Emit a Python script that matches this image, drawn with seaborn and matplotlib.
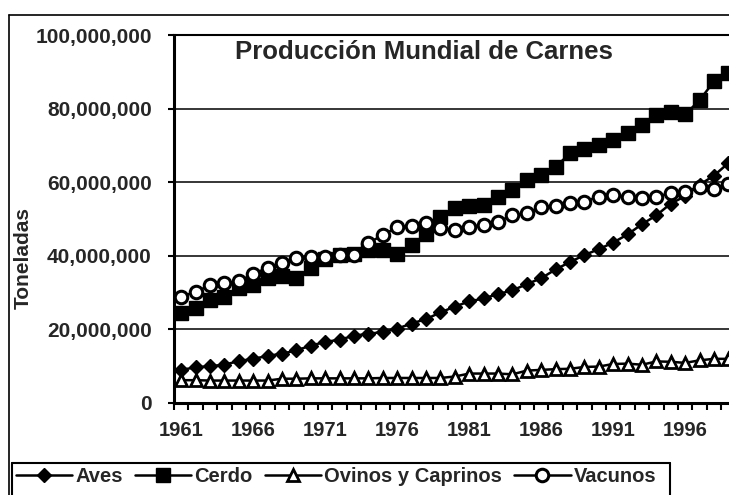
import numpy as np
import pandas as pd
import matplotlib
matplotlib.use("Agg")
import matplotlib.pyplot as plt
from matplotlib.lines import Line2D
from matplotlib.ticker import FuncFormatter, MultipleLocator, FixedLocator
import seaborn as sns

# ---------------- data (million tonnes) ----------------
years = list(range(1961, 2000))
aves = [9.0, 9.7, 10.0, 10.4, 11.4, 12.0, 12.8, 13.4, 14.3, 15.6,
        16.6, 17.2, 18.3, 18.8, 19.3, 20.2, 21.6, 22.8, 24.6, 26.2,
        27.6, 28.4, 29.6, 30.6, 32.3, 33.9, 36.3, 38.3, 40.2, 41.8,
        43.6, 45.8, 48.6, 51.0, 54.2, 56.2, 59.3, 61.8, 65.2]
cerdo = [24.4, 25.8, 28.0, 28.9, 31.2, 32.1, 33.9, 34.4, 33.9, 36.6,
         39.2, 40.3, 40.5, 41.6, 41.6, 40.4, 43.0, 45.8, 50.6, 53.0,
         53.6, 53.8, 56.1, 57.9, 60.5, 62.0, 64.2, 67.8, 68.9, 70.1,
         71.5, 73.5, 75.6, 78.2, 79.0, 78.4, 82.3, 87.4, 89.6]
ovinos = [6.2, 6.2, 6.1, 6.1, 6.1, 6.1, 6.1, 6.6, 6.6, 6.7,
          6.7, 6.7, 6.7, 6.7, 6.8, 6.8, 6.8, 6.8, 6.8, 7.2,
          8.0, 8.0, 8.0, 7.8, 8.8, 9.0, 9.2, 9.3, 9.8, 9.9,
          10.6, 10.7, 10.4, 11.3, 11.2, 10.9, 11.6, 12.0, 12.0]
vacunos = [28.9, 30.2, 32.0, 32.5, 33.1, 35.0, 36.8, 38.1, 39.3, 39.8,
           39.8, 40.2, 40.2, 43.4, 45.7, 47.7, 48.1, 49.0, 47.6, 47.0,
           47.9, 48.4, 49.3, 51.0, 51.5, 53.3, 53.5, 54.3, 54.7, 56.1,
           56.5, 56.1, 55.6, 56.1, 57.0, 57.4, 58.8, 58.1, 59.5]
series_names = ["Aves", "Cerdo", "Ovinos y Caprinos", "Vacunos"]
tick_years = [1961, 1966, 1971, 1976, 1981, 1986, 1991, 1996]
title = "Producción Mundial de Carnes"
ylabel = "Toneladas"

sns.set_style("white")
plt.rcParams["font.family"] = ["Liberation Sans", "DejaVu Sans"]
plt.rcParams["font.weight"] = "bold"
plt.rcParams["xtick.labelsize"] = 14.5
plt.rcParams["ytick.labelsize"] = 15

W, H = 729, 495
fig = plt.figure(figsize=(W / 100, H / 100), dpi=100)
ax = fig.add_axes([174 / W, (H - 403) / H, 39 * 14.4 / W, (403 - 35) / H])

styles = {
    "Aves": dict(marker="D", markersize=7.6, markerfacecolor="black",
                 markeredgecolor="black", markeredgewidth=1.0),
    "Cerdo": dict(marker="s", markersize=9.4, markerfacecolor="black",
                  markeredgecolor="black", markeredgewidth=1.0),
    "Ovinos y Caprinos": dict(marker="^", markersize=8.0, markerfacecolor="white",
                              markeredgecolor="black", markeredgewidth=2.0),
    "Vacunos": dict(marker="o", markersize=9.0, markerfacecolor="white",
                    markeredgecolor="black", markeredgewidth=2.2),
}
values = {"Aves": aves, "Cerdo": cerdo, "Ovinos y Caprinos": ovinos, "Vacunos": vacunos}

for name in series_names:
    df = pd.DataFrame({"year": years, "val": np.array(values[name]) * 1e6})
    sns.lineplot(data=df, x="year", y="val", ax=ax, color="black",
                 linewidth=1.8, label=name, **styles[name])

ax.set_xlim(1960.5, 1999.5)
ax.set_ylim(0, 100e6)
ax.yaxis.set_major_locator(MultipleLocator(20e6))
ax.yaxis.set_major_formatter(FuncFormatter(lambda v, p: f"{int(v):,}"))
ax.xaxis.set_major_locator(FixedLocator(tick_years))
ax.xaxis.set_major_formatter(FuncFormatter(lambda v, p: f"{int(round(v))}"))
ax.xaxis.set_minor_locator(FixedLocator(np.arange(1960.5, 2000.5, 1.0)))
ax.tick_params(axis="x", which="major", length=0, pad=13, labelsize=14.5)
ax.tick_params(axis="x", which="minor", length=5, width=1.5, direction="out",
               color="black", bottom=True)
ax.tick_params(axis="y", which="major", length=4, width=1.5, direction="out",
               pad=12, labelsize=15, color="black", left=True)
ax.set_xlabel("")
ax.set_ylabel("")
ax.grid(axis="y", color="black", linewidth=1.1)
ax.grid(axis="x", visible=False)
for s in ["left", "bottom"]:
    ax.spines[s].set_linewidth(2.2)
    ax.spines[s].set_color("black")
ax.spines["top"].set_linewidth(1.5)
ax.spines["top"].set_color("black")
ax.spines["right"].set_visible(False)
leg = ax.get_legend()
if leg is not None:
    leg.remove()

fig.text(424 / W, 1 - 52 / H, title, ha="center", va="center",
         fontsize=18.5, fontweight="bold")
fig.text(23 / W, 1 - 258 / H, ylabel, ha="center", va="center",
         rotation=90, fontsize=15, fontweight="bold")

# outer chart frame
fig.add_artist(Line2D([9 / W, 9 / W], [0, 1 - 15 / H], transform=fig.transFigure,
                      color="black", lw=1.2))
fig.add_artist(Line2D([9 / W, 1], [1 - 15 / H, 1 - 15 / H], transform=fig.transFigure,
                      color="black", lw=1.2))
# legend frame (bottom edge out of view)
fig.add_artist(Line2D([12 / W, 670 / W], [1 - 463 / H, 1 - 463 / H],
                      transform=fig.transFigure, color="black", lw=1.5))
fig.add_artist(Line2D([12 / W, 12 / W], [0, 1 - 463 / H],
                      transform=fig.transFigure, color="black", lw=1.5))
fig.add_artist(Line2D([670 / W, 670 / W], [0, 1 - 463 / H],
                      transform=fig.transFigure, color="black", lw=1.5))

handles, labels = ax.get_legend_handles_labels()
fig.legend(handles, labels, loc="upper left", bbox_to_anchor=(12 / W, 1 - 463 / H),
           ncol=4, frameon=False, handlelength=2.8,
           handletextpad=0.15, columnspacing=0.6, borderpad=0.2,
           borderaxespad=0, prop={"weight": "bold", "size": 14.5})

fig.savefig("out.png", dpi=100)
